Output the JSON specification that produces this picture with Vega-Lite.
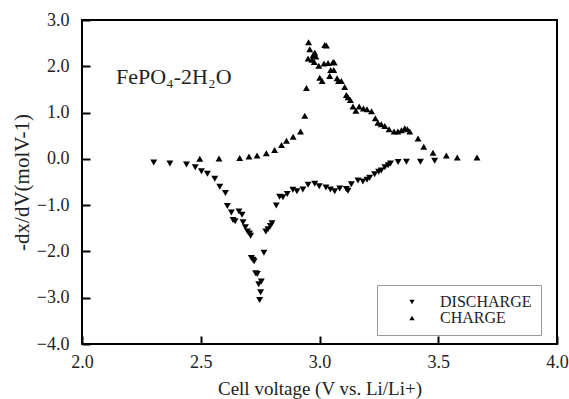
{
  "$schema": "https://vega.github.io/schema/vega-lite/v6.json",
  "width": 475,
  "height": 324,
  "autosize": "none",
  "padding": {"left": 82, "top": 20, "right": 12, "bottom": 55},
  "background": "white",
  "config": {
    "font": "Liberation Serif",
    "view": {"stroke": "black", "strokeWidth": 2}
  },
  "data": {"values": [
    {"V": 2.302, "y": -0.08, "m": "DISCHARGE"},
    {"V": 2.370, "y": -0.10, "m": "DISCHARGE"},
    {"V": 2.440, "y": -0.12, "m": "DISCHARGE"},
    {"V": 2.477, "y": -0.18, "m": "DISCHARGE"},
    {"V": 2.503, "y": -0.27, "m": "DISCHARGE"},
    {"V": 2.528, "y": -0.32, "m": "DISCHARGE"},
    {"V": 2.559, "y": -0.43, "m": "DISCHARGE"},
    {"V": 2.580, "y": -0.60, "m": "DISCHARGE"},
    {"V": 2.604, "y": -0.74, "m": "DISCHARGE"},
    {"V": 2.612, "y": -1.02, "m": "DISCHARGE"},
    {"V": 2.629, "y": -1.16, "m": "DISCHARGE"},
    {"V": 2.636, "y": -1.32, "m": "DISCHARGE"},
    {"V": 2.645, "y": -1.35, "m": "DISCHARGE"},
    {"V": 2.661, "y": -1.14, "m": "DISCHARGE"},
    {"V": 2.674, "y": -1.21, "m": "DISCHARGE"},
    {"V": 2.678, "y": -1.37, "m": "DISCHARGE"},
    {"V": 2.688, "y": -1.48, "m": "DISCHARGE"},
    {"V": 2.697, "y": -1.57, "m": "DISCHARGE"},
    {"V": 2.705, "y": -1.61, "m": "DISCHARGE"},
    {"V": 2.710, "y": -1.66, "m": "DISCHARGE"},
    {"V": 2.713, "y": -2.14, "m": "DISCHARGE"},
    {"V": 2.720, "y": -2.18, "m": "DISCHARGE"},
    {"V": 2.725, "y": -2.21, "m": "DISCHARGE"},
    {"V": 2.731, "y": -2.47, "m": "DISCHARGE"},
    {"V": 2.738, "y": -2.49, "m": "DISCHARGE"},
    {"V": 2.744, "y": -2.71, "m": "DISCHARGE"},
    {"V": 2.755, "y": -2.65, "m": "DISCHARGE"},
    {"V": 2.752, "y": -2.88, "m": "DISCHARGE"},
    {"V": 2.748, "y": -3.05, "m": "DISCHARGE"},
    {"V": 2.766, "y": -2.03, "m": "DISCHARGE"},
    {"V": 2.774, "y": -1.57, "m": "DISCHARGE"},
    {"V": 2.783, "y": -1.52, "m": "DISCHARGE"},
    {"V": 2.793, "y": -1.45, "m": "DISCHARGE"},
    {"V": 2.800, "y": -1.39, "m": "DISCHARGE"},
    {"V": 2.818, "y": -1.01, "m": "DISCHARGE"},
    {"V": 2.832, "y": -0.82, "m": "DISCHARGE"},
    {"V": 2.846, "y": -0.83, "m": "DISCHARGE"},
    {"V": 2.864, "y": -0.76, "m": "DISCHARGE"},
    {"V": 2.888, "y": -0.67, "m": "DISCHARGE"},
    {"V": 2.905, "y": -0.70, "m": "DISCHARGE"},
    {"V": 2.930, "y": -0.66, "m": "DISCHARGE"},
    {"V": 2.952, "y": -0.56, "m": "DISCHARGE"},
    {"V": 2.980, "y": -0.54, "m": "DISCHARGE"},
    {"V": 2.999, "y": -0.59, "m": "DISCHARGE"},
    {"V": 3.027, "y": -0.62, "m": "DISCHARGE"},
    {"V": 3.046, "y": -0.66, "m": "DISCHARGE"},
    {"V": 3.064, "y": -0.70, "m": "DISCHARGE"},
    {"V": 3.085, "y": -0.64, "m": "DISCHARGE"},
    {"V": 3.113, "y": -0.65, "m": "DISCHARGE"},
    {"V": 3.120, "y": -0.69, "m": "DISCHARGE"},
    {"V": 3.134, "y": -0.55, "m": "DISCHARGE"},
    {"V": 3.162, "y": -0.47, "m": "DISCHARGE"},
    {"V": 3.183, "y": -0.49, "m": "DISCHARGE"},
    {"V": 3.200, "y": -0.45, "m": "DISCHARGE"},
    {"V": 3.211, "y": -0.41, "m": "DISCHARGE"},
    {"V": 3.232, "y": -0.33, "m": "DISCHARGE"},
    {"V": 3.249, "y": -0.28, "m": "DISCHARGE"},
    {"V": 3.260, "y": -0.25, "m": "DISCHARGE"},
    {"V": 3.275, "y": -0.18, "m": "DISCHARGE"},
    {"V": 3.289, "y": -0.14, "m": "DISCHARGE"},
    {"V": 3.299, "y": -0.10, "m": "DISCHARGE"},
    {"V": 3.331, "y": -0.07, "m": "DISCHARGE"},
    {"V": 3.366, "y": -0.06, "m": "DISCHARGE"},
    {"V": 3.425, "y": -0.06, "m": "DISCHARGE"},
    {"V": 3.485, "y": -0.04, "m": "DISCHARGE"},
    {"V": 2.496, "y": 0.00, "m": "CHARGE"},
    {"V": 2.577, "y": 0.01, "m": "CHARGE"},
    {"V": 2.664, "y": 0.02, "m": "CHARGE"},
    {"V": 2.703, "y": 0.05, "m": "CHARGE"},
    {"V": 2.737, "y": 0.07, "m": "CHARGE"},
    {"V": 2.776, "y": 0.12, "m": "CHARGE"},
    {"V": 2.811, "y": 0.19, "m": "CHARGE"},
    {"V": 2.840, "y": 0.30, "m": "CHARGE"},
    {"V": 2.861, "y": 0.39, "m": "CHARGE"},
    {"V": 2.889, "y": 0.48, "m": "CHARGE"},
    {"V": 2.920, "y": 0.59, "m": "CHARGE"},
    {"V": 2.938, "y": 0.93, "m": "CHARGE"},
    {"V": 2.945, "y": 1.53, "m": "CHARGE"},
    {"V": 2.952, "y": 2.17, "m": "CHARGE"},
    {"V": 2.954, "y": 2.52, "m": "CHARGE"},
    {"V": 2.959, "y": 2.37, "m": "CHARGE"},
    {"V": 2.968, "y": 2.14, "m": "CHARGE"},
    {"V": 2.973, "y": 2.24, "m": "CHARGE"},
    {"V": 2.980, "y": 2.29, "m": "CHARGE"},
    {"V": 2.985, "y": 2.21, "m": "CHARGE"},
    {"V": 2.978, "y": 2.09, "m": "CHARGE"},
    {"V": 2.997, "y": 2.01, "m": "CHARGE"},
    {"V": 3.001, "y": 1.75, "m": "CHARGE"},
    {"V": 3.011, "y": 1.68, "m": "CHARGE"},
    {"V": 3.019, "y": 2.06, "m": "CHARGE"},
    {"V": 3.022, "y": 2.46, "m": "CHARGE"},
    {"V": 3.029, "y": 2.45, "m": "CHARGE"},
    {"V": 3.036, "y": 2.07, "m": "CHARGE"},
    {"V": 3.043, "y": 1.79, "m": "CHARGE"},
    {"V": 3.047, "y": 1.92, "m": "CHARGE"},
    {"V": 3.057, "y": 2.09, "m": "CHARGE"},
    {"V": 3.062, "y": 2.08, "m": "CHARGE"},
    {"V": 3.060, "y": 1.92, "m": "CHARGE"},
    {"V": 3.074, "y": 1.74, "m": "CHARGE"},
    {"V": 3.080, "y": 1.68, "m": "CHARGE"},
    {"V": 3.092, "y": 1.68, "m": "CHARGE"},
    {"V": 3.106, "y": 1.55, "m": "CHARGE"},
    {"V": 3.113, "y": 1.38, "m": "CHARGE"},
    {"V": 3.120, "y": 1.33, "m": "CHARGE"},
    {"V": 3.130, "y": 1.27, "m": "CHARGE"},
    {"V": 3.141, "y": 1.13, "m": "CHARGE"},
    {"V": 3.153, "y": 1.04, "m": "CHARGE"},
    {"V": 3.167, "y": 1.13, "m": "CHARGE"},
    {"V": 3.185, "y": 1.09, "m": "CHARGE"},
    {"V": 3.200, "y": 1.07, "m": "CHARGE"},
    {"V": 3.219, "y": 1.03, "m": "CHARGE"},
    {"V": 3.235, "y": 0.88, "m": "CHARGE"},
    {"V": 3.246, "y": 0.78, "m": "CHARGE"},
    {"V": 3.260, "y": 0.75, "m": "CHARGE"},
    {"V": 3.275, "y": 0.71, "m": "CHARGE"},
    {"V": 3.293, "y": 0.64, "m": "CHARGE"},
    {"V": 3.314, "y": 0.59, "m": "CHARGE"},
    {"V": 3.330, "y": 0.59, "m": "CHARGE"},
    {"V": 3.345, "y": 0.62, "m": "CHARGE"},
    {"V": 3.359, "y": 0.66, "m": "CHARGE"},
    {"V": 3.370, "y": 0.64, "m": "CHARGE"},
    {"V": 3.380, "y": 0.59, "m": "CHARGE"},
    {"V": 3.415, "y": 0.44, "m": "CHARGE"},
    {"V": 3.439, "y": 0.26, "m": "CHARGE"},
    {"V": 3.478, "y": 0.13, "m": "CHARGE"},
    {"V": 3.534, "y": 0.07, "m": "CHARGE"},
    {"V": 3.580, "y": 0.03, "m": "CHARGE"},
    {"V": 3.663, "y": 0.03, "m": "CHARGE"}
  ]},
  "layer": [
    {
      "mark": {"type": "point", "filled": true, "color": "black", "opacity": 1, "size": 48},
      "encoding": {
        "x": {"field": "V", "type": "quantitative", "scale": {"domain": [2, 4], "nice": false, "zero": false},
              "axis": {"orient": "bottom", "offset": -8, "values": [2, 2.5, 3, 3.5, 4], "format": ".1f", "grid": false, "domainColor": "transparent", "tickColor": "black", "tickSize": 8, "tickWidth": 2, "labelPadding": 9, "labelFlush": false, "labelFont": "Liberation Serif", "labelFontSize": 18, "labelColor": "#222", "title": "Cell voltage (V vs. Li/Li+)", "titleFont": "Liberation Serif", "titleFontSize": 19, "titleFontWeight": "normal", "titleColor": "#222", "titlePadding": 8}},
        "y": {"field": "y", "type": "quantitative", "scale": {"domain": [-4, 3], "nice": false, "zero": false},
              "axis": {"orient": "left", "offset": -8, "values": [-4, -3, -2, -1, 0, 1, 2, 3], "format": ".1f", "grid": false, "domainColor": "transparent", "tickColor": "black", "tickSize": 8, "tickWidth": 2, "labelPadding": 13, "labelFlush": false, "labelFont": "Liberation Serif", "labelFontSize": 18, "labelColor": "#222", "title": "-dx/dV(molV-1)", "titleFont": "Liberation Serif", "titleFontSize": 21, "titleFontWeight": "normal", "titleColor": "#222", "titlePadding": 4}},
        "shape": {"field": "m", "type": "nominal", "scale": {"domain": ["DISCHARGE", "CHARGE"], "range": ["triangle-down", "triangle-up"]},
                  "legend": {"title": null, "orient": "none", "legendX": 295, "legendY": 265, "labelFontSize": 16, "labelFont": "Liberation Serif", "labelColor": "#222", "symbolSize": 28, "symbolFillColor": "black", "symbolStrokeColor": "black", "symbolType": "triangle-up", "padding": 9, "symbolOffset": 18, "labelOffset": 20, "rowPadding": 0, "strokeColor": "#999", "fillColor": "white"}}
      }
    },
    {
      "data": {"values": [{"V": 2.143, "y": 1.62, "t": "FePO₄-2H₂O"}]},
      "mark": {"type": "text", "align": "left", "baseline": "alphabetic", "fontSize": 22, "font": "Liberation Serif", "color": "#222"},
      "encoding": {
        "x": {"field": "V", "type": "quantitative"},
        "y": {"field": "y", "type": "quantitative"},
        "text": {"field": "t"}
      }
    }
  ]
}
